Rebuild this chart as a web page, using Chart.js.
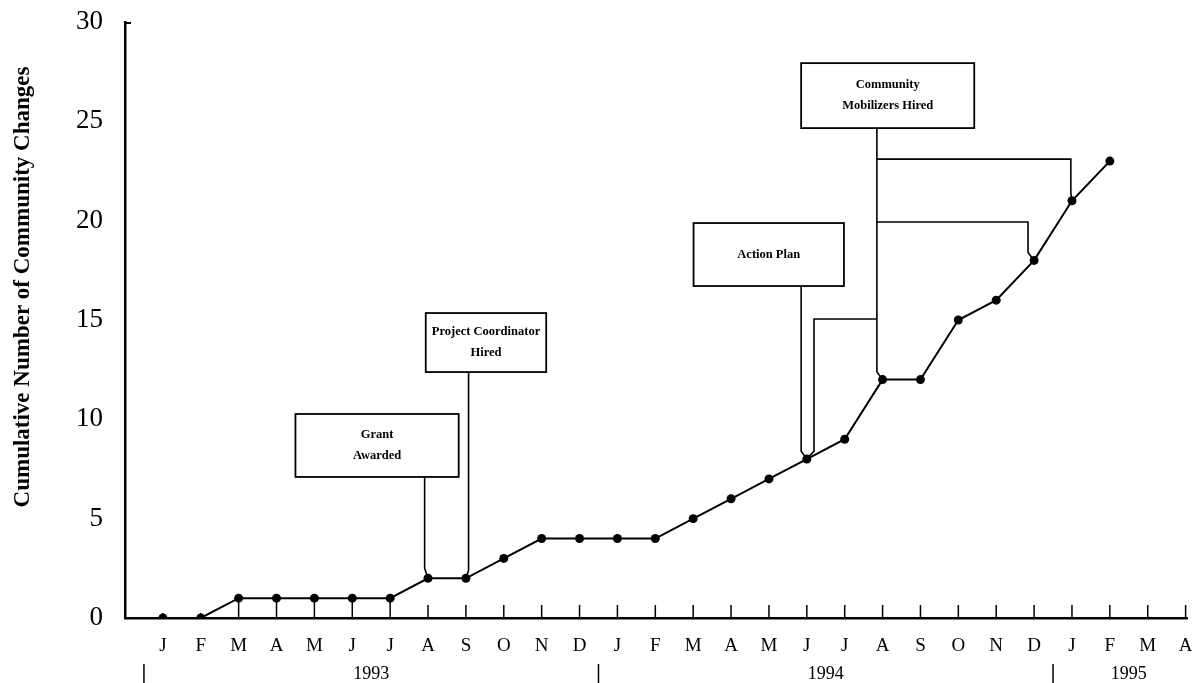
<!DOCTYPE html>
<html>
<head>
<meta charset="utf-8">
<script src="https://cdn.jsdelivr.net/npm/chart.js@4.4.1/dist/chart.umd.min.js"></script>
<style>
  html, body { margin: 0; padding: 0; background: #fff; }
  #wrap { width: 1192px; height: 683px; }
</style>
</head>
<body>
<div id="wrap"><canvas id="chart"></canvas></div>
<script>
/* ================================
   Data
================================ */
const monthLabels = ["J","F","M","A","M","J","J","A","S","O","N","D",
                     "J","F","M","A","M","J","J","A","S","O","N","D",
                     "J","F","M","A"];
const yearLabels = ["1993", "1994", "1995"];
const changes = [0, 0, 1, 1, 1, 1, 1, 2, 2, 3, 4, 4,
                 4, 4, 5, 6, 7, 8, 9, 12, 12, 15, 16, 18,
                 21, 23];
const yTicks = [0, 5, 10, 15, 20, 25, 30];
const yTitle = "Cumulative Number of Community Changes";

// event boxes, in chart units: box = [x0, x1, yTop, yBottom]
const events = [
  { lines: ["Grant", "Awarded"], box: [3.5, 7.81, 10.27, 7.10],
    links: [{ path: [[6.91, 7.10], [6.91, 2.5]], to: 7 }] },
  { lines: ["Project Coordinator", "Hired"], box: [6.94, 10.12, 15.35, 12.38],
    links: [{ path: [[8.07, 12.38], [8.07, 2.4]], to: 8 }] },
  { lines: ["Action Plan"], box: [14.01, 17.98, 19.88, 16.71],
    links: [{ path: [[16.85, 16.71], [16.85, 8.4]], to: 17 }] },
  { lines: ["Community", "Mobilizers Hired"], box: [16.85, 21.42, 27.93, 24.66],
    links: [
      { path: [[18.85, 24.66], [18.85, 12.4]], to: 19 },
      { path: [[18.85, 23.1], [23.97, 23.1], [23.97, 21.4]], to: 24 },
      { path: [[18.85, 19.93], [22.84, 19.93], [22.84, 18.4]], to: 23 },
      { path: [[18.85, 15.05], [17.19, 15.05], [17.19, 8.4]], to: 17 }
    ] }
];

const SERIF = "'Liberation Serif', 'DejaVu Serif', serif";

/* ================================
   Extras: ticks, years, title, event boxes
================================ */
const extras = {
  id: "extras",
  afterDatasetsDraw(chart) {
    const { ctx, scales: { x, y } } = chart;
    const base = y.getPixelForValue(0);
    ctx.save();
    ctx.strokeStyle = "#000";
    ctx.fillStyle = "#000";

    // month ticks pointing up into the plot
    ctx.lineWidth = 1.5;
    monthLabels.forEach((m, i) => {
      const px = x.getPixelForValue(i);
      let top = base - (i < 2 ? 5 : 13);
      const v = changes[i];
      if (v > 0 && base - y.getPixelForValue(v) < 22) top = y.getPixelForValue(v);
      ctx.beginPath();
      ctx.moveTo(px, base);
      ctx.lineTo(px, top);
      ctx.stroke();
    });

    // small nub at top of y axis
    ctx.lineWidth = 2;
    ctx.beginPath();
    ctx.moveTo(x.left, y.top + 1);
    ctx.lineTo(x.left + 6, y.top + 1);
    ctx.stroke();

    // y title
    ctx.save();
    ctx.translate(23, 287);
    ctx.rotate(-Math.PI / 2);
    ctx.font = "bold 23px " + SERIF;
    ctx.textAlign = "center";
    ctx.textBaseline = "middle";
    ctx.fillText(yTitle, 0, 0);
    ctx.restore();

    // years + separators
    ctx.font = "18px " + SERIF;
    ctx.textAlign = "center";
    ctx.textBaseline = "middle";
    yearLabels.forEach((yr, k) => {
      const first = k * 12;
      const last = Math.min(first + 11, monthLabels.length - 1);
      ctx.fillText(yr, x.getPixelForValue((first + last) / 2), 674);
      const sx = x.getPixelForValue(first - 0.5);
      ctx.lineWidth = 1.5;
      ctx.beginPath();
      ctx.moveTo(sx, 664);
      ctx.lineTo(sx, 683);
      ctx.stroke();
    });

    // event boxes and connectors
    events.forEach(ev => {
      const [x0, x1, yt, yb] = ev.box;
      const L = x.getPixelForValue(x0), R = x.getPixelForValue(x1);
      const T = y.getPixelForValue(yt), B = y.getPixelForValue(yb);
      ctx.lineWidth = 1.8;
      ctx.fillStyle = "#fff";
      ctx.fillRect(L, T, R - L, B - T);
      ctx.strokeRect(L, T, R - L, B - T);

      ctx.fillStyle = "#000";
      ctx.font = "bold 12.5px " + SERIF;
      const cy = (T + B) / 2;
      const lh = 21;
      ev.lines.forEach((t, j) => {
        ctx.fillText(t, (L + R) / 2, cy + (j - (ev.lines.length - 1) / 2) * lh);
      });

      ctx.lineWidth = 1.6;
      ev.links.forEach(link => {
        ctx.beginPath();
        link.path.forEach(([px, py], j) => {
          const X = x.getPixelForValue(px), Y = y.getPixelForValue(py);
          if (j === 0) ctx.moveTo(X, Y); else ctx.lineTo(X, Y);
        });
        ctx.lineTo(x.getPixelForValue(link.to), y.getPixelForValue(changes[link.to]));
        ctx.stroke();
      });
    });
    ctx.restore();
  }
};

/* ================================
   Chart
================================ */
new Chart(document.getElementById("chart"), {
  type: "line",
  data: {
    datasets: [{
      data: changes.map((v, i) => ({ x: i, y: v })),
      borderColor: "#000",
      backgroundColor: "#000",
      borderWidth: 2,
      pointRadius: 4.5,
      pointBackgroundColor: "#000",
      pointBorderWidth: 0,
      tension: 0
    }]
  },
  options: {
    responsive: true,
    maintainAspectRatio: false,
    animation: false,
    events: [],
    layout: { padding: { top: 22, right: 0, left: 0, bottom: 0 } },
    plugins: { legend: { display: false }, tooltip: { enabled: false } },
    scales: {
      x: {
        type: "linear",
        min: -1,
        max: 27.05,
        grid: { display: false, drawTicks: false },
        border: { display: true, color: "#000", width: 2.5 },
        afterFit: s => {
          s.height = 65;
          s.paddingLeft = 0;
          s.paddingRight = 0;
        },
        afterBuildTicks: s => {
          s.ticks = monthLabels.map((m, i) => ({ value: i }));
        },
        ticks: {
          autoSkip: false,
          maxRotation: 0,
          padding: 17,
          color: "#000",
          font: { family: SERIF, size: 19 },
          callback: v => monthLabels[v] ?? ""
        }
      },
      y: {
        min: 0,
        max: 30,
        grid: { display: false, drawTicks: false },
        border: { display: true, color: "#000", width: 2.5 },
        afterFit: s => {
          s.width = 125;
          s.paddingTop = 0;
          s.paddingBottom = 0;
        },
        afterBuildTicks: s => {
          s.ticks = yTicks.map(v => ({ value: v }));
        },
        ticks: {
          padding: 22,
          color: "#000",
          font: { family: SERIF, size: 27 }
        }
      }
    }
  },
  plugins: [extras]
});
</script>
</body>
</html>
